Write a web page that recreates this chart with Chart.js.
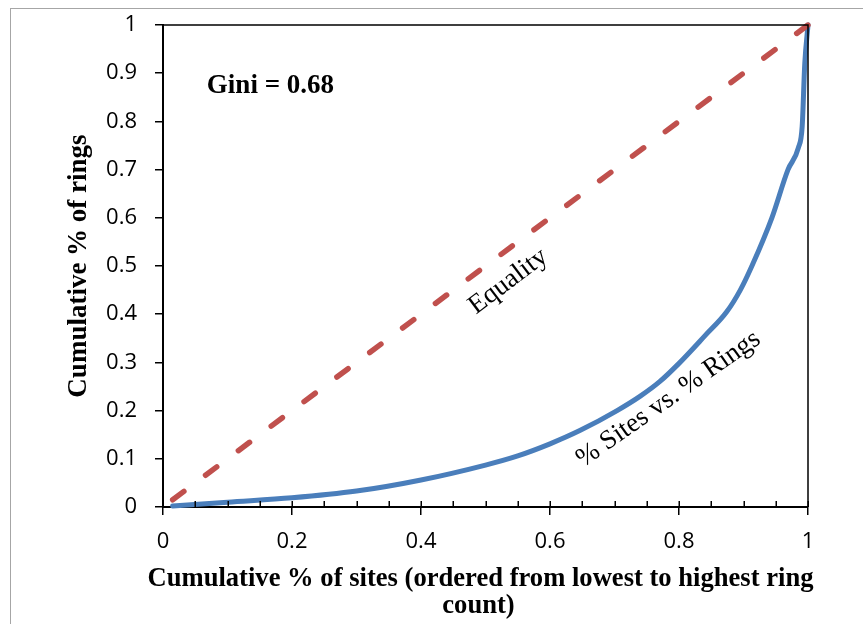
<!DOCTYPE html>
<html>
<head>
<meta charset="utf-8">
<script src="https://cdn.jsdelivr.net/npm/chart.js@4.4.0/dist/chart.umd.min.js"></script>
<style>
    html, body { margin: 0; padding: 0; background: #fff; }
    #wrap { position: relative; width: 863px; height: 624px; overflow: hidden; }
    #frame { position: absolute; left: 10px; top: 8px; width: 900px; height: 700px; border: 1px solid #a6a6a6; }
    #lorenzChart { position: absolute; left: 0; top: 0; }
</style>
</head>
<body>
<div id="wrap">
    <div id="frame"></div>
    <canvas id="lorenzChart" width="863" height="624"></canvas>
</div>
<script>
// cumulative share of sites (x) vs cumulative share of rings (y)
const siteShare = [0.015, 0.1, 0.2, 0.3, 0.4, 0.5, 0.55, 0.6, 0.647, 0.704, 0.74, 0.77, 0.8, 0.84, 0.874, 0.895, 0.913, 0.944, 0.969, 0.985, 0.991, 0.995, 1.0];
const ringShare = [0.002, 0.010, 0.019, 0.033, 0.056, 0.087, 0.106, 0.131, 0.159, 0.200, 0.230, 0.260, 0.298, 0.355, 0.405, 0.450, 0.500, 0.600, 0.700, 0.745, 0.79, 0.92, 1.0];

// line of equality
const equalityX = [0.015, 1];
const equalityY = [0.015, 1];

const xTickValues = [0, 0.2, 0.4, 0.6, 0.8, 1];
const xMinorTicks = [0, 0.05, 0.1, 0.15, 0.2, 0.25, 0.3, 0.35, 0.4, 0.45, 0.5, 0.55, 0.6, 0.65, 0.7, 0.75, 0.8, 0.85, 0.9, 0.95, 1];
const yTickValues = [0, 0.1, 0.2, 0.3, 0.4, 0.5, 0.6, 0.7, 0.8, 0.9, 1];

const giniLabel = 'Gini = 0.68';
const xTitle = ['Cumulative % of sites (ordered from lowest to highest ring', 'count)'];
const yTitle = 'Cumulative % of rings';

const SERIF = '"Liberation Serif", "Times New Roman", serif';
const SANS = '"Open Sans", sans-serif';

const notes = [
    { text: giniLabel, x: 0.068, y: 0.859, angle: 0, weight: 'bold', align: 'left' },
    { text: 'Equality', x: 0.542, y: 0.456, angle: -37, weight: 'normal', align: 'center' },
    { text: '% Sites vs. % Rings', x: 0.79, y: 0.212, angle: -35, weight: 'normal', align: 'center' }
];

// keep chart area fixed: no automatic label padding
function fixPadding(s) {
    s.paddingTop = 0;
    s.paddingBottom = 0;
    s.paddingLeft = 0;
    s.paddingRight = 0;
}

const plotDecor = {
    id: 'plotDecor',
    afterDraw(chart) {
        const { ctx, chartArea: a, scales: { x, y } } = chart;
        ctx.save();
        // top + right frame
        ctx.strokeStyle = '#000';
        ctx.lineWidth = 1.5;
        ctx.beginPath();
        ctx.moveTo(a.left, a.top);
        ctx.lineTo(a.right, a.top);
        ctx.lineTo(a.right, a.bottom);
        ctx.stroke();

        // inner minor ticks on x axis
        ctx.beginPath();
        xMinorTicks.forEach(v => {
            const px = Math.round(x.getPixelForValue(v)) + 0.25;
            ctx.moveTo(px, a.bottom);
            ctx.lineTo(px, a.bottom - 6);
        });
        ctx.stroke();

        // text notes
        ctx.fillStyle = '#000';
        ctx.textBaseline = 'alphabetic';
        notes.forEach(n => {
            ctx.save();
            ctx.translate(x.getPixelForValue(n.x), y.getPixelForValue(n.y));
            ctx.rotate(n.angle * Math.PI / 180);
            ctx.font = n.weight + ' 27px ' + SERIF;
            ctx.textAlign = n.align;
            ctx.fillText(n.text, 0, 0);
            ctx.restore();
        });

        // x axis title (wider than the plot, so drawn here without maxWidth)
        ctx.font = 'bold 26.6px ' + SERIF;
        ctx.textAlign = 'center';
        const cx = (a.left + a.right) / 2 - 5;
        ctx.fillText(xTitle[0], cx, a.bottom + 79);
        ctx.fillText(xTitle[1], cx - 2, a.bottom + 106);
        ctx.restore();
    }
};

const ctx = document.getElementById('lorenzChart').getContext('2d');

new Chart(ctx, {
    type: 'line',
    data: {
        datasets: [{
            label: 'Equality',
            data: equalityX.map((v, i) => ({ x: v, y: equalityY[i] })),
            borderColor: '#C0504D',
            borderWidth: 5.5,
            borderDash: [14, 27],
            borderCapStyle: 'round',
            pointRadius: 0,
            fill: false,
            clip: 6
        }, {
            label: '% Sites vs. % Rings',
            data: siteShare.map((v, i) => ({ x: v, y: ringShare[i] })),
            borderColor: '#4A7EBB',
            borderWidth: 5,
            borderCapStyle: 'round',
            cubicInterpolationMode: 'monotone',
            pointRadius: 0,
            fill: false,
            clip: 6
        }]
    },
    options: {
        responsive: false,
        animation: false,
        layout: {
            padding: { left: 0, top: 25, right: 55, bottom: 0 }
        },
        plugins: {
            legend: { display: false },
            tooltip: { enabled: false }
        },
        scales: {
            x: {
                type: 'linear',
                min: 0,
                max: 1,
                afterFit: s => { s.height = 117; fixPadding(s); },
                afterBuildTicks: s => { s.ticks = xTickValues.map(v => ({ value: v })); },
                border: { display: true, color: '#000', width: 2 },
                grid: {
                    drawOnChartArea: false,
                    color: '#000',
                    lineWidth: 1.5,
                    tickLength: 8
                },
                ticks: {
                    color: '#000',
                    padding: 14,
                    maxRotation: 0,
                    font: { family: SANS, size: 22 },
                    callback: v => String(v)
                },
                title: { display: false }
            },
            y: {
                type: 'linear',
                min: 0,
                max: 1,
                afterFit: s => { s.width = 163; fixPadding(s); },
                afterBuildTicks: s => { s.ticks = yTickValues.map(v => ({ value: v })); },
                border: { display: true, color: '#000', width: 2 },
                grid: {
                    drawOnChartArea: false,
                    color: '#000',
                    lineWidth: 1.5,
                    tickLength: 8
                },
                ticks: {
                    color: '#000',
                    padding: 18,
                    font: { family: SANS, size: 22 },
                    callback: v => String(v)
                },
                title: {
                    display: true,
                    text: yTitle,
                    color: '#000',
                    font: { family: SERIF, size: 27, weight: 'bold', lineHeight: 1 },
                    padding: { top: 66, bottom: 0 }
                }
            }
        }
    },
    plugins: [plotDecor]
});
</script>
</body>
</html>
